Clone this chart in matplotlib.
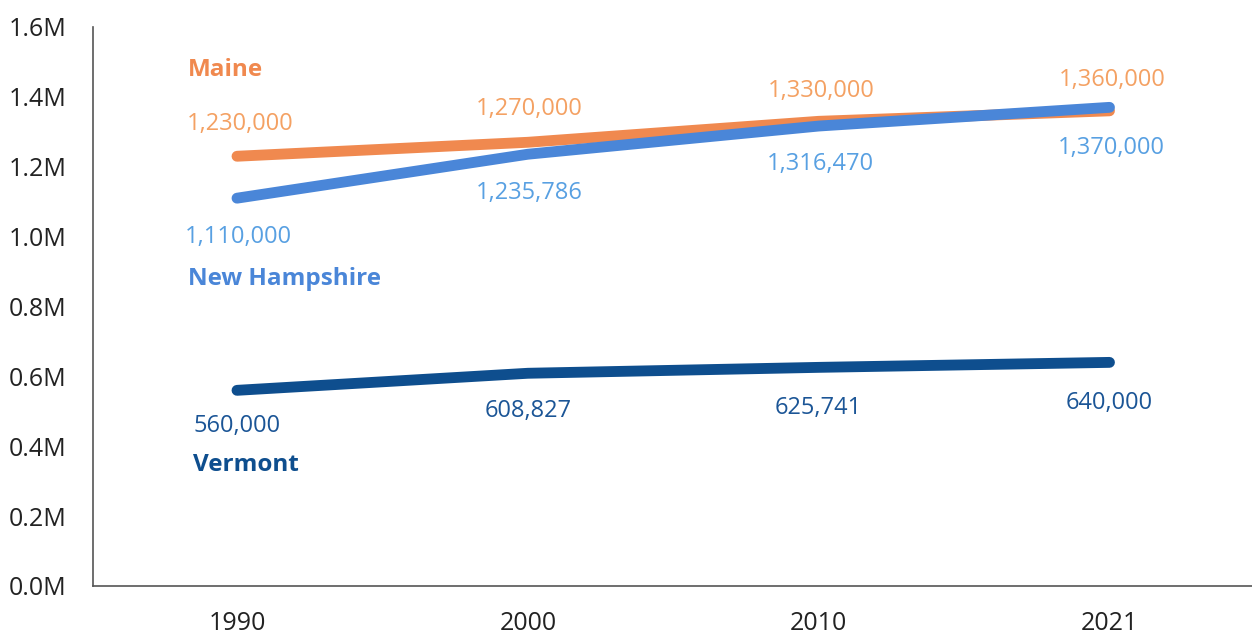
import matplotlib.pyplot as plt

plt.rcParams['font.family'] = ['Open Sans', 'DejaVu Sans']

years = ['1990', '2000', '2010', '2021']
maine = [1230000, 1270000, 1330000, 1360000]
new_hampshire = [1110000, 1235786, 1316470, 1370000]
vermont = [560000, 608827, 625741, 640000]

series = [
    # name, values, line colour, label colour, label offsets (pts)
    ('Maine', maine, '#F0894F', '#F4A163',
     [(2, 23), (1, 24), (2, 22), (2, 22)]),
    ('New Hampshire', new_hampshire, '#4A86D8', '#58A0E2',
     [(1, -28), (1, -28), (1, -27), (1, -29)]),
    ('Vermont', vermont, '#0E4E8E', '#1B5596',
     [(0, -26), (0, -27), (0, -29), (0, -29)]),
]

fig = plt.figure(figsize=(12.52, 6.35), dpi=100, facecolor='white')
ax = fig.add_axes([0.0743, 0.0772, 0.9257, 0.8803])

x = list(range(len(years)))
for name, vals, color, lcolor, offs in series:
    ax.plot(x, vals, color=color, lw=7.8, solid_capstyle='round', zorder=3)
    for xi, v, off in zip(x, vals, offs):
        ax.annotate(f'{v:,}', (xi, v), xytext=off, textcoords='offset points',
                    ha='center', va='center', fontsize=17, color=lcolor)

# series names
ax.text(-0.168, 1.477e6, 'Maine', color='#F0894F', fontsize=17.5, fontweight='bold', va='center')
ax.text(-0.168, 0.88e6, 'New Hampshire', color='#4A86D8', fontsize=17.5, fontweight='bold', va='center')
ax.text(-0.152, 0.347e6, 'Vermont', color='#0E4E8E', fontsize=17.5, fontweight='bold', va='center')

ax.set_xlim(-0.495, 3.49)
ax.set_ylim(0, 1.6e6)
ax.set_xticks(x)
ax.set_xticklabels(years)
ax.set_yticks([i * 0.2e6 for i in range(9)])
ax.set_yticklabels([f'{i * 0.2:.1f}M' for i in range(9)])
ax.tick_params(length=0, labelsize=18, colors='#222222')
ax.tick_params(axis='y', pad=19)
ax.tick_params(axis='x', pad=18)

ax.spines['top'].set_visible(False)
ax.spines['right'].set_visible(False)
for s in ['left', 'bottom']:
    ax.spines[s].set_color('#555555')
    ax.spines[s].set_linewidth(1.2)

plt.savefig('out.png', dpi=100, facecolor='white')
